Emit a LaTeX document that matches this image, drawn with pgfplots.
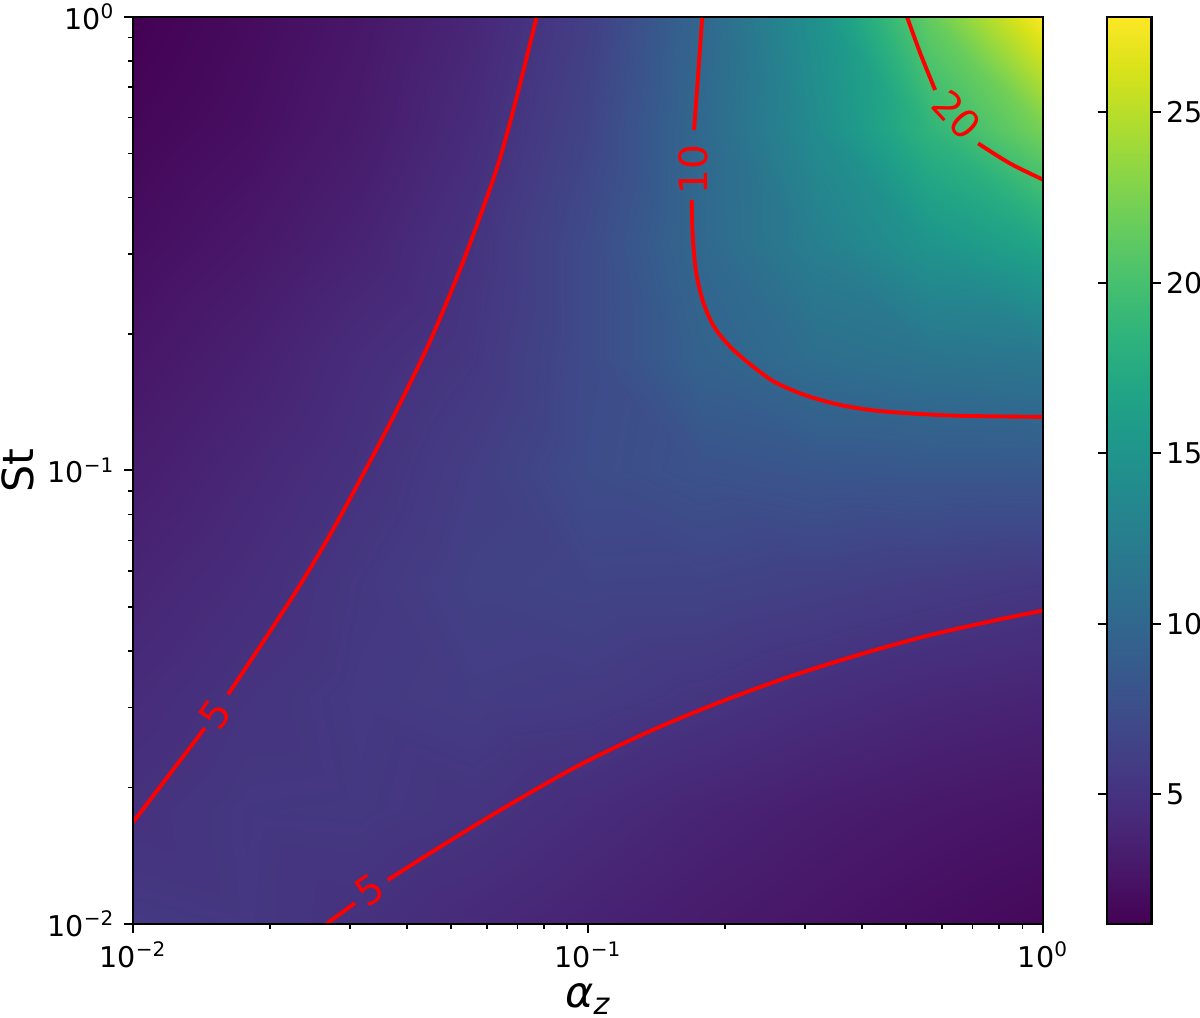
\documentclass[border=0pt]{standalone}
\usepackage{pgfplots}
\pgfplotsset{compat=1.18}
\usepackage{fontspec}
\setmainfont{DejaVu Sans}
\usetikzlibrary{calc}

\begin{document}
\begin{tikzpicture}
\begin{axis}[
  name=ax,
  scale only axis,
  width=350.4pt, height=349.2pt,
  xmode=log, ymode=log,
  xmin=0.01, xmax=1, ymin=0.01, ymax=1,
  enlargelimits=false,
  axis on top,
  colormap/viridis,
  point meta min=1.2, point meta max=27.8,
  colorbar,
  colorbar/width=17.3pt,
  colorbar style={
    at={(parent axis.north east)}, anchor=north west, xshift=15.9pt,
    width=17.3pt, height=349.2pt, scale only axis,
    ytick={5,10,15,20,25},
    tick align=outside, major tick length=3.5pt,
    ytick style={black, line width=0.8pt},
    yticklabel style={font=\fontsize{11}{13}\selectfont, /pgf/number format/assume math mode=true, xshift=-1.2pt},
    axis line style={line width=0.8pt},
  },
  tick align=outside,
  tick pos=left,
  major tick length=3.5pt, minor tick length=2pt,
  every tick/.style={black, line width=0.8pt},
  every minor tick/.style={black, line width=0.6pt},
  xtick={0.01,0.1,1},
  xticklabels={10\textsuperscript{−2},10\textsuperscript{−1},10\textsuperscript{0}},
  ytick={0.01,0.1,1},
  yticklabels={10\textsuperscript{−2},10\textsuperscript{−1},10\textsuperscript{0}},
  minor xtick={0.02,0.03,0.04,0.05,0.06,0.07,0.08,0.09,0.2,0.3,0.4,0.5,0.6,0.7,0.8,0.9},
  minor ytick={0.02,0.03,0.04,0.05,0.06,0.07,0.08,0.09,0.2,0.3,0.4,0.5,0.6,0.7,0.8,0.9},
  ticklabel style={font=\fontsize{11}{13}\selectfont},
  xlabel={\itshape α\textsubscript{z}},
  ylabel={St},
  label style={font=\fontsize{16.5}{20}\selectfont},
  xlabel style={at={(axis description cs:0.5,-0.0926)}, anchor=base},
  ylabel style={at={(axis description cs:-0.126,0.5)}, anchor=center},
  axis line style={line width=0.8pt},
]
\addplot[surf, shader=interp, mesh/cols=9, point meta=explicit] table[x=a, y=s, meta=f] {
a s f
0.01 0.01 5.6
0.017783 0.01 5.4
0.031623 0.01 4.9
0.056234 0.01 4.3
0.1 0.01 3.7
0.177828 0.01 3.1
0.316228 0.01 2.6
0.562341 0.01 2.1
1 0.01 1.7
0.01 0.017783 4.95
0.017783 0.017783 5.45
0.031623 0.017783 5.5
0.056234 0.017783 5.15
0.1 0.017783 4.5
0.177828 0.017783 3.85
0.316228 0.017783 3.3
0.562341 0.017783 2.85
1 0.017783 2.5
0.01 0.031623 4.45
0.017783 0.031623 5.1
0.031623 0.031623 5.6
0.056234 0.031623 5.9
0.1 0.031623 5.75
0.177828 0.031623 5.25
0.316228 0.031623 4.65
0.562341 0.031623 4.15
1 0.031623 3.8
0.01 0.056234 3.9
0.017783 0.056234 4.6
0.031623 0.056234 5.45
0.056234 0.056234 6.3
0.1 0.056234 6.6
0.177828 0.056234 6.55
0.316228 0.056234 6.2
0.562341 0.056234 5.8
1 0.056234 5.45
0.01 0.1 3.3
0.017783 0.1 4.1
0.031623 0.1 4.95
0.056234 0.1 6.0
0.1 0.1 7.3
0.177828 0.1 7.9
0.316228 0.1 8.3
0.562341 0.1 8.45
1 0.1 8.5
0.01 0.177828 2.7
0.017783 0.177828 3.5
0.031623 0.177828 4.55
0.056234 0.177828 5.4
0.1 0.177828 7.2
0.177828 0.177828 9.5
0.316228 0.177828 10.8
0.562341 0.177828 11.4
1 0.177828 11.8
0.01 0.316228 2.1
0.017783 0.316228 2.8
0.031623 0.316228 3.75
0.056234 0.316228 5.1
0.1 0.316228 7.2
0.177828 0.316228 10.15
0.316228 0.316228 12.6
0.562341 0.316228 15.0
1 0.316228 17.0
0.01 0.562341 1.6
0.017783 0.562341 2.2
0.031623 0.562341 3.1
0.056234 0.562341 4.5
0.1 0.562341 6.6
0.177828 0.562341 10.2
0.316228 0.562341 14.0
0.562341 0.562341 18.5
1 0.562341 22.3
0.01 1 1.2
0.017783 1 1.9
0.031623 1 2.75
0.056234 1 4.0
0.1 1 6.1
0.177828 1 10.0
0.316228 1 14.6
0.562341 1 21.5
1 1 27.8
};
% contour 5, upper branch
\addplot[red, line width=1.5pt, smooth] coordinates {
(0.0771,1) (0.0700,0.6761) (0.0630,0.4624) (0.05346,0.2931) (0.04519,0.1950)
(0.03802,0.1361) (0.03206,0.09817) (0.02710,0.07211) (0.02291,0.05445) (0.01932,0.04188) (0.01618,0.03206)
};
\addplot[red, line width=1.5pt] coordinates {(0.01439,0.02704) (0.01,0.01675)};
% contour 5, lower branch
\addplot[red, line width=1.5pt] coordinates {(0.02661,0.01) (0.03076,0.01112)};
\addplot[red, line width=1.5pt, smooth] coordinates {
(0.03631,0.0125) (0.04875,0.01507) (0.06622,0.01816) (0.09441,0.02223) (0.1346,0.02642)
(0.1914,0.03062) (0.2729,0.03491) (0.389,0.03908) (0.5546,0.04315) (0.7889,0.04677) (1,0.04909)
};
% contour 10
\addplot[red, line width=1.5pt, smooth] coordinates {(0.1782,1) (0.1746,0.7499) (0.1710,0.5636)};
\addplot[red, line width=1.5pt, smooth] coordinates {
(0.1690,0.3949) (0.1698,0.3311) (0.1726,0.2754) (0.1786,0.2371) (0.1884,0.2089)
(0.2042,0.1884) (0.2265,0.1718) (0.2570,0.1567) (0.3020,0.1462) (0.3631,0.1390)
(0.4467,0.1349) (0.6310,0.1321) (1,0.1312)
};
% contour 20
\addplot[red, line width=1.5pt, smooth] coordinates {(0.5023,1) (0.5370,0.8318) (0.5790,0.6900)};
\addplot[red, line width=1.5pt, smooth] coordinates {(0.7200,0.5260) (0.8453,0.4753) (1,0.4375)};
% contour labels
\node[red, font=\fontsize{15}{17}\selectfont, rotate=55, inner sep=0pt] at (axis cs:0.01514,0.02904) {5};
\node[red, font=\fontsize{15}{17}\selectfont, rotate=35, inner sep=0pt] at (axis cs:0.03304,0.01189) {5};
\node[red, font=\fontsize{15}{17}\selectfont, rotate=90, inner sep=0pt] at (axis cs:0.1702,0.4603) {10};
\node[red, font=\fontsize{15}{17}\selectfont, rotate=-47, inner sep=0pt] at (axis cs:0.6457,0.6080) {20};
\end{axis}
\pgfresetboundingbox
\path[use as bounding box] ($(ax.south west)+(-51.2pt,-36.2pt)$) rectangle ($(ax.north east)+(60.4pt,6.5pt)$);
\end{tikzpicture}
\end{document}
